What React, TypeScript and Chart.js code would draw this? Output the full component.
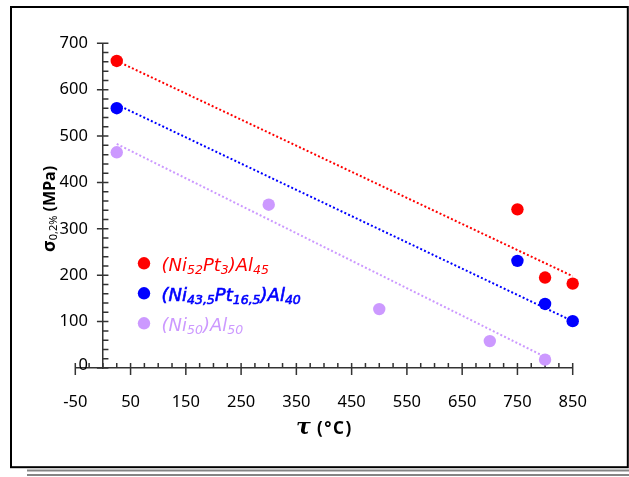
import React, { useEffect, useRef } from 'react';
import { Chart, registerables } from 'chart.js';

Chart.register(...registerables);

const W = 629;
const H = 477;

// ---- data ----
const tempRed = [25, 750, 800, 850];
const strengthRed = [662, 342, 195, 182];
const tempBlue = [25, 750, 800, 850];
const strengthBlue = [560, 231, 138, 101];
const tempLilac = [25, 300, 500, 700, 800];
const strengthLilac = [465, 352, 127, 58, 18];

// dotted trend lines: end points
const trendRedX = [25, 850];
const trendRedY = [662, 198];
const trendBlueX = [25, 850];
const trendBlueY = [568, 101];
const trendLilacX = [25, 800];
const trendLilacY = [483, 24];

// axes
const xMin = -50;
const xMax = 850;
const yMin = 0;
const yMax = 700;
const xTickValues = [-50, 50, 150, 250, 350, 450, 550, 650, 750, 850];
const yTickValues = [0, 100, 200, 300, 400, 500, 600, 700];
const xMinorStep = 25;
const yMinorStep = 20;

// legend labels: [text, isSubscript]
const legendRed: [string, boolean][] = [['(Ni', false], ['52', true], ['Pt', false], ['3', true], [')Al', false], ['45', true]];
const legendBlue: [string, boolean][] = [['(Ni', false], ['43,5', true], ['Pt', false], ['16,5', true], [')Al', false], ['40', true]];
const legendLilac: [string, boolean][] = [['(Ni', false], ['50', true], [')Al', false], ['50', true]];

const RED = '#FF0000';
const BLUE = '#0000FF';
const LILAC = '#CC99FF';
const AXIS = '#333333';
const LABEL = '#000000';
const TICK_FAMILY = '"Noto Sans", sans-serif';
const TICK_SIZE = 16.5;

const pts = (xs: number[], ys: number[]) => xs.map((x, i) => ({ x, y: ys[i] }));

function drawRich(ctx: CanvasRenderingContext2D, x: number, base: number, segs: [string, boolean][], main: string, sub: string, shift: number, heavy: boolean) {
  let cx = x;
  for (const [t, s] of segs) {
    ctx.font = s ? sub : main;
    const yy = base + (s ? shift : 0);
    ctx.fillText(t, cx, yy);
    if (heavy) ctx.strokeText(t, cx, yy);
    cx += ctx.measureText(t).width;
  }
  return cx;
}

const decor = {
  id: 'decor',
  beforeDraw(chart: any) {
    const ctx: CanvasRenderingContext2D = chart.ctx;
    ctx.save();
    ctx.fillStyle = '#ffffff';
    ctx.fillRect(0, 0, W, H);
    ctx.strokeStyle = '#000000';
    ctx.lineWidth = 2;
    ctx.strokeRect(11, 7, 616.8, 460.2);
    ctx.fillStyle = '#858585';
    ctx.fillRect(27, 469.5, 602, 2);
    ctx.fillRect(27, 474, 602, 2);
    ctx.restore();
  },
  beforeDatasetsDraw(chart: any) {
    const ctx: CanvasRenderingContext2D = chart.ctx;
    const xs = chart.scales.x;
    const ys = chart.scales.y;
    const ax = xs.getPixelForValue(0);
    const ay = ys.getPixelForValue(0);
    ctx.save();
    ctx.strokeStyle = AXIS;
    ctx.lineWidth = 1.5;
    ctx.beginPath();
    for (let v = yMin; v <= yMax; v += yMinorStep) {
      const p = ys.getPixelForValue(v);
      if (yTickValues.includes(v)) {
        ctx.moveTo(ax - 6, p);
        ctx.lineTo(ax + 5.5, p);
      } else {
        ctx.moveTo(ax, p);
        ctx.lineTo(ax + 5.5, p);
      }
    }
    for (let v = xMin; v <= xMax; v += xMinorStep) {
      const p = xs.getPixelForValue(v);
      if (xTickValues.includes(v)) {
        ctx.moveTo(p, ay - 5);
        ctx.lineTo(p, ay + 7);
      } else {
        ctx.moveTo(p, ay - 5);
        ctx.lineTo(p, ay);
      }
    }
    ctx.stroke();

    // y tick labels, to the left of the y axis (which crosses at x = 0)
    ctx.fillStyle = LABEL;
    ctx.font = `${TICK_SIZE}px ${TICK_FAMILY}`;
    ctx.textAlign = 'right';
    ctx.textBaseline = 'middle';
    for (const t of ys.ticks) {
      const p = ys.getPixelForValue(t.value);
      ctx.fillText(String(t.value), ax - 15, t.value === 0 ? p - 3 : p);
    }
    ctx.restore();
  },
  afterDraw(chart: any) {
    const ctx: CanvasRenderingContext2D = chart.ctx;
    ctx.save();
    ctx.textBaseline = 'alphabetic';
    ctx.textAlign = 'left';

    // legend
    const rows: [string, [string, boolean][], number, boolean][] = [
      [RED, legendRed, 263.3, false],
      [BLUE, legendBlue, 293.3, true],
      [LILAC, legendLilac, 323.3, false],
    ];
    const mainF = 'italic 18px "DejaVu Sans", sans-serif';
    const subF = 'italic 12.5px "DejaVu Sans", sans-serif';
    for (const [c, segs, y, heavy] of rows) {
      ctx.fillStyle = c;
      ctx.strokeStyle = c;
      ctx.lineWidth = 0.6;
      ctx.beginPath();
      ctx.arc(144, y, 6.2, 0, Math.PI * 2);
      ctx.fill();
      drawRich(ctx, 161.5, y + 8, segs, mainF, subF, 3, heavy);
    }

    // x title
    ctx.fillStyle = LABEL;
    ctx.font = 'italic bold 22px "DejaVu Serif", serif';
    ctx.fillText('τ', 296, 434);
    ctx.font = 'bold 17px "Noto Sans", sans-serif';
    (ctx as any).letterSpacing = '1.5px';
    ctx.fillText('(°C)', 317, 434);
    (ctx as any).letterSpacing = '0px';

    // y title (rotated)
    ctx.translate(55, 252);
    ctx.rotate(-Math.PI / 2);
    let cx = 0;
    ctx.font = 'bold 18px "Noto Sans", sans-serif';
    ctx.fillText('σ', cx, 0);
    cx += ctx.measureText('σ').width;
    ctx.font = '11px "Noto Sans", sans-serif';
    ctx.fillText('0,2%', cx, 2);
    cx += ctx.measureText('0,2%').width;
    ctx.font = 'bold 16px "Noto Sans", sans-serif';
    ctx.fillText(' (MPa)', cx, 0);
    ctx.restore();
  },
};

export default function App() {
  const ref = useRef<HTMLCanvasElement>(null);
  useEffect(() => {
    if (!ref.current) return;
    const lineDs = (xs: number[], ys: number[], color: string) => ({
      type: 'line' as const,
      data: pts(xs, ys),
      borderColor: color,
      borderWidth: 2,
      borderDash: [2, 2.2],
      pointRadius: 0,
      fill: false,
      clip: false as any,
      order: 2,
    });
    const dotDs = (xs: number[], ys: number[], color: string, label: string) => ({
      type: 'scatter' as const,
      label,
      data: pts(xs, ys),
      backgroundColor: color,
      borderWidth: 0,
      pointRadius: 6.2,
      clip: false as any,
      order: 1,
    });
    const chart = new Chart(ref.current, {
      type: 'scatter',
      data: {
        datasets: [
          lineDs(trendRedX, trendRedY, RED),
          lineDs(trendBlueX, trendBlueY, BLUE),
          lineDs(trendLilacX, trendLilacY, LILAC),
          dotDs(tempRed, strengthRed, RED, '(Ni52Pt3)Al45'),
          dotDs(tempBlue, strengthBlue, BLUE, '(Ni43,5Pt16,5)Al40'),
          dotDs(tempLilac, strengthLilac, LILAC, '(Ni50)Al50'),
        ] as any,
      },
      options: {
        animation: false,
        responsive: false,
        devicePixelRatio: 1,
        events: [],
        layout: { padding: { left: 75.3, right: 56.3, top: 43.3, bottom: 109 } },
        plugins: { legend: { display: false }, tooltip: { enabled: false }, title: { display: false } },
        scales: {
          x: {
            type: 'linear',
            min: xMin,
            max: xMax,
            position: { y: 0 } as any,
            afterBuildTicks: (s: any) => { s.ticks = xTickValues.map((value) => ({ value })); },
            ticks: { font: { family: TICK_FAMILY, size: TICK_SIZE }, color: LABEL, padding: 24, maxRotation: 0, autoSkip: false, callback: (v: any) => String(v) },
            grid: { display: false, drawTicks: false },
            border: { display: true, color: AXIS, width: 1.5 },
          },
          y: {
            type: 'linear',
            min: yMin,
            max: yMax,
            position: { x: 0 } as any,
            afterBuildTicks: (s: any) => { s.ticks = yTickValues.map((value) => ({ value })); },
            ticks: { display: false },
            grid: { display: false, drawTicks: false },
            border: { display: true, color: AXIS, width: 1.5 },
          },
        },
      },
      plugins: [decor],
    } as any);
    return () => chart.destroy();
  }, []);
  return (
    <div style={{ position: 'fixed', left: 0, top: 0, width: W, height: H, background: '#fff' }}>
      <canvas ref={ref} width={W} height={H} style={{ width: W, height: H, display: 'block' }} />
    </div>
  );
}
